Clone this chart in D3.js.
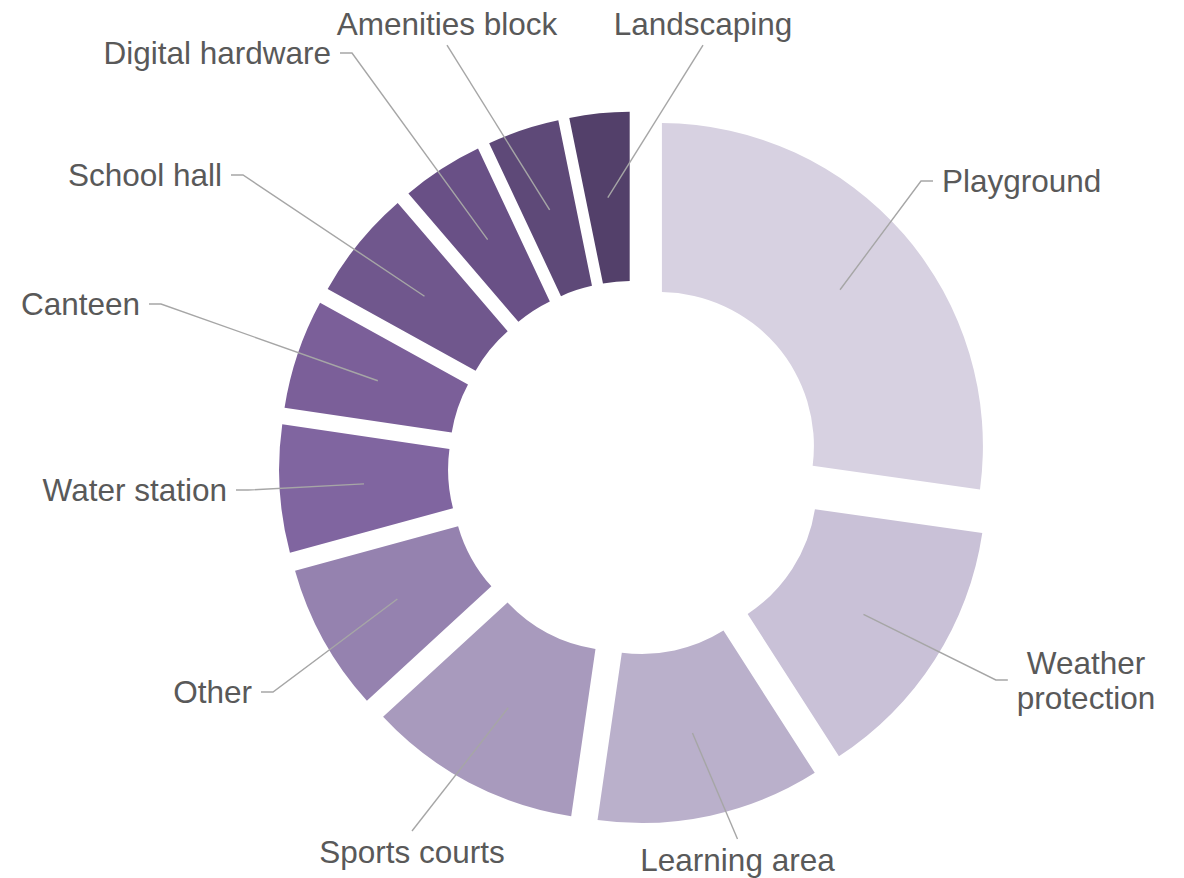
<!DOCTYPE html>
<html>
<head>
<meta charset="utf-8">
<script src="https://cdn.jsdelivr.net/npm/d3@7"></script>
<style>
  body { margin: 0; background: #fff; }
  text { font-family: "Liberation Sans", Arial, sans-serif; }
</style>
</head>
<body>
<div id="chart-area"></div>
<script>
// spending share by item (%)
const categories = ["Playground", "Weather protection", "Learning area", "Sports courts", "Other",
    "Water station", "Canteen", "School hall", "Digital hardware", "Amenities block", "Landscaping"]
const shares = [27.3, 13.7, 11.4, 10.9, 7.6, 6.6, 5.7, 5.7, 4.3, 3.8, 3.2]
const colours = ["#d7d1e1", "#c9c1d7", "#bab0cb", "#a89abd", "#9582af",
    "#8065a0", "#7b5f99", "#70578d", "#695086", "#5e4978", "#53406a"]

const WIDTH = 1184
const HEIGHT = 878
const CENTER = { x: 635, y: 467.7 }
const OUTER = 323
const INNER = 154
const EXPLODE = 33

// hand placed labels (text middle), like in the original
const labelLayout = {
    "Playground":         { x: 942,    y: 181,   anchor: "start",  leader: "h" },
    "Weather protection": { x: 1086,   y: 680,   anchor: "middle", leader: "h" },
    "Learning area":      { x: 737.5,  y: 859.7, anchor: "middle", leader: "v" },
    "Sports courts":      { x: 412,    y: 851.7, anchor: "middle", leader: "v" },
    "Other":              { x: 252,    y: 692,   anchor: "end",    leader: "h" },
    "Water station":      { x: 227,    y: 490,   anchor: "end",    leader: "h" },
    "Canteen":            { x: 140,    y: 304,   anchor: "end",    leader: "h" },
    "School hall":        { x: 222,    y: 175,   anchor: "end",    leader: "h" },
    "Digital hardware":   { x: 331,    y: 53,    anchor: "end",    leader: "h" },
    "Amenities block":    { x: 447,    y: 23.7,  anchor: "middle", leader: "v" },
    "Landscaping":        { x: 703,    y: 23.7,  anchor: "middle", leader: "v" }
}
const multiLine = { "Weather protection": ["Weather", "protection"] }

const data = categories.map((c, i) => ({ name: c, value: shares[i], colour: colours[i] }))

const svg = d3.select("#chart-area").append("svg")
    .attr("width", WIDTH)
    .attr("height", HEIGHT)

const g = svg.append("g")
    .attr("transform", `translate(${CENTER.x}, ${CENTER.y})`)

const pie = d3.pie()
    .sort(null)
    .value(d => d.value)

const arc = d3.arc()
    .innerRadius(INNER)
    .outerRadius(OUTER)
    .padAngle(0.04)
    .padRadius(100)

const arcs = pie(data)

// each slice pushed out along its own bisector
const shift = d => {
    const a = (d.startAngle + d.endAngle) / 2
    return [EXPLODE * Math.sin(a), -EXPLODE * Math.cos(a)]
}

g.selectAll("path.slice")
    .data(arcs)
    .enter().append("path")
    .attr("class", "slice")
    .attr("d", arc)
    .attr("transform", d => `translate(${shift(d)[0]}, ${shift(d)[1]})`)
    .attr("fill", d => d.data.colour)

// labels
const labels = svg.append("g").attr("class", "labels")
const FONT = 31.5
const LINE_GAP = 35

arcs.forEach(d => {
    const name = d.data.name
    const lay = labelLayout[name]
    const lines = multiLine[name] || [name]
    const t = labels.append("text")
        .attr("text-anchor", lay.anchor)
        .attr("font-size", FONT + "px")
        .attr("fill", "#595959")
    lines.forEach((ln, i) => {
        t.append("tspan")
            .attr("x", lay.x)
            .attr("y", lay.y + (i - (lines.length - 1) / 2) * LINE_GAP)
            .attr("dy", "0.36em")
            .text(ln)
    })

    const box = t.node().getBBox()
    const c = arc.centroid(d)
    const s = shift(d)
    const start = [CENTER.x + c[0] + s[0], CENTER.y + c[1] + s[1]]
    let pts
    if (lay.leader === "h") {
        const left = start[0] < box.x
        const ex = left ? box.x - 9 : box.x + box.width + 9
        const kx = left ? ex - 12 : ex + 12
        const my = lay.y
        pts = [start, [kx, my], [ex, my]]
    } else {
        const above = start[1] < box.y
        const ey = above ? box.y - 3 : box.y + box.height + 3
        pts = [start, [lay.x, ey]]
    }
    labels.append("path")
        .attr("d", d3.line()(pts))
        .attr("fill", "none")
        .attr("stroke", "#a6a6a6")
        .attr("stroke-width", 1.4)
})
</script>
</body>
</html>
